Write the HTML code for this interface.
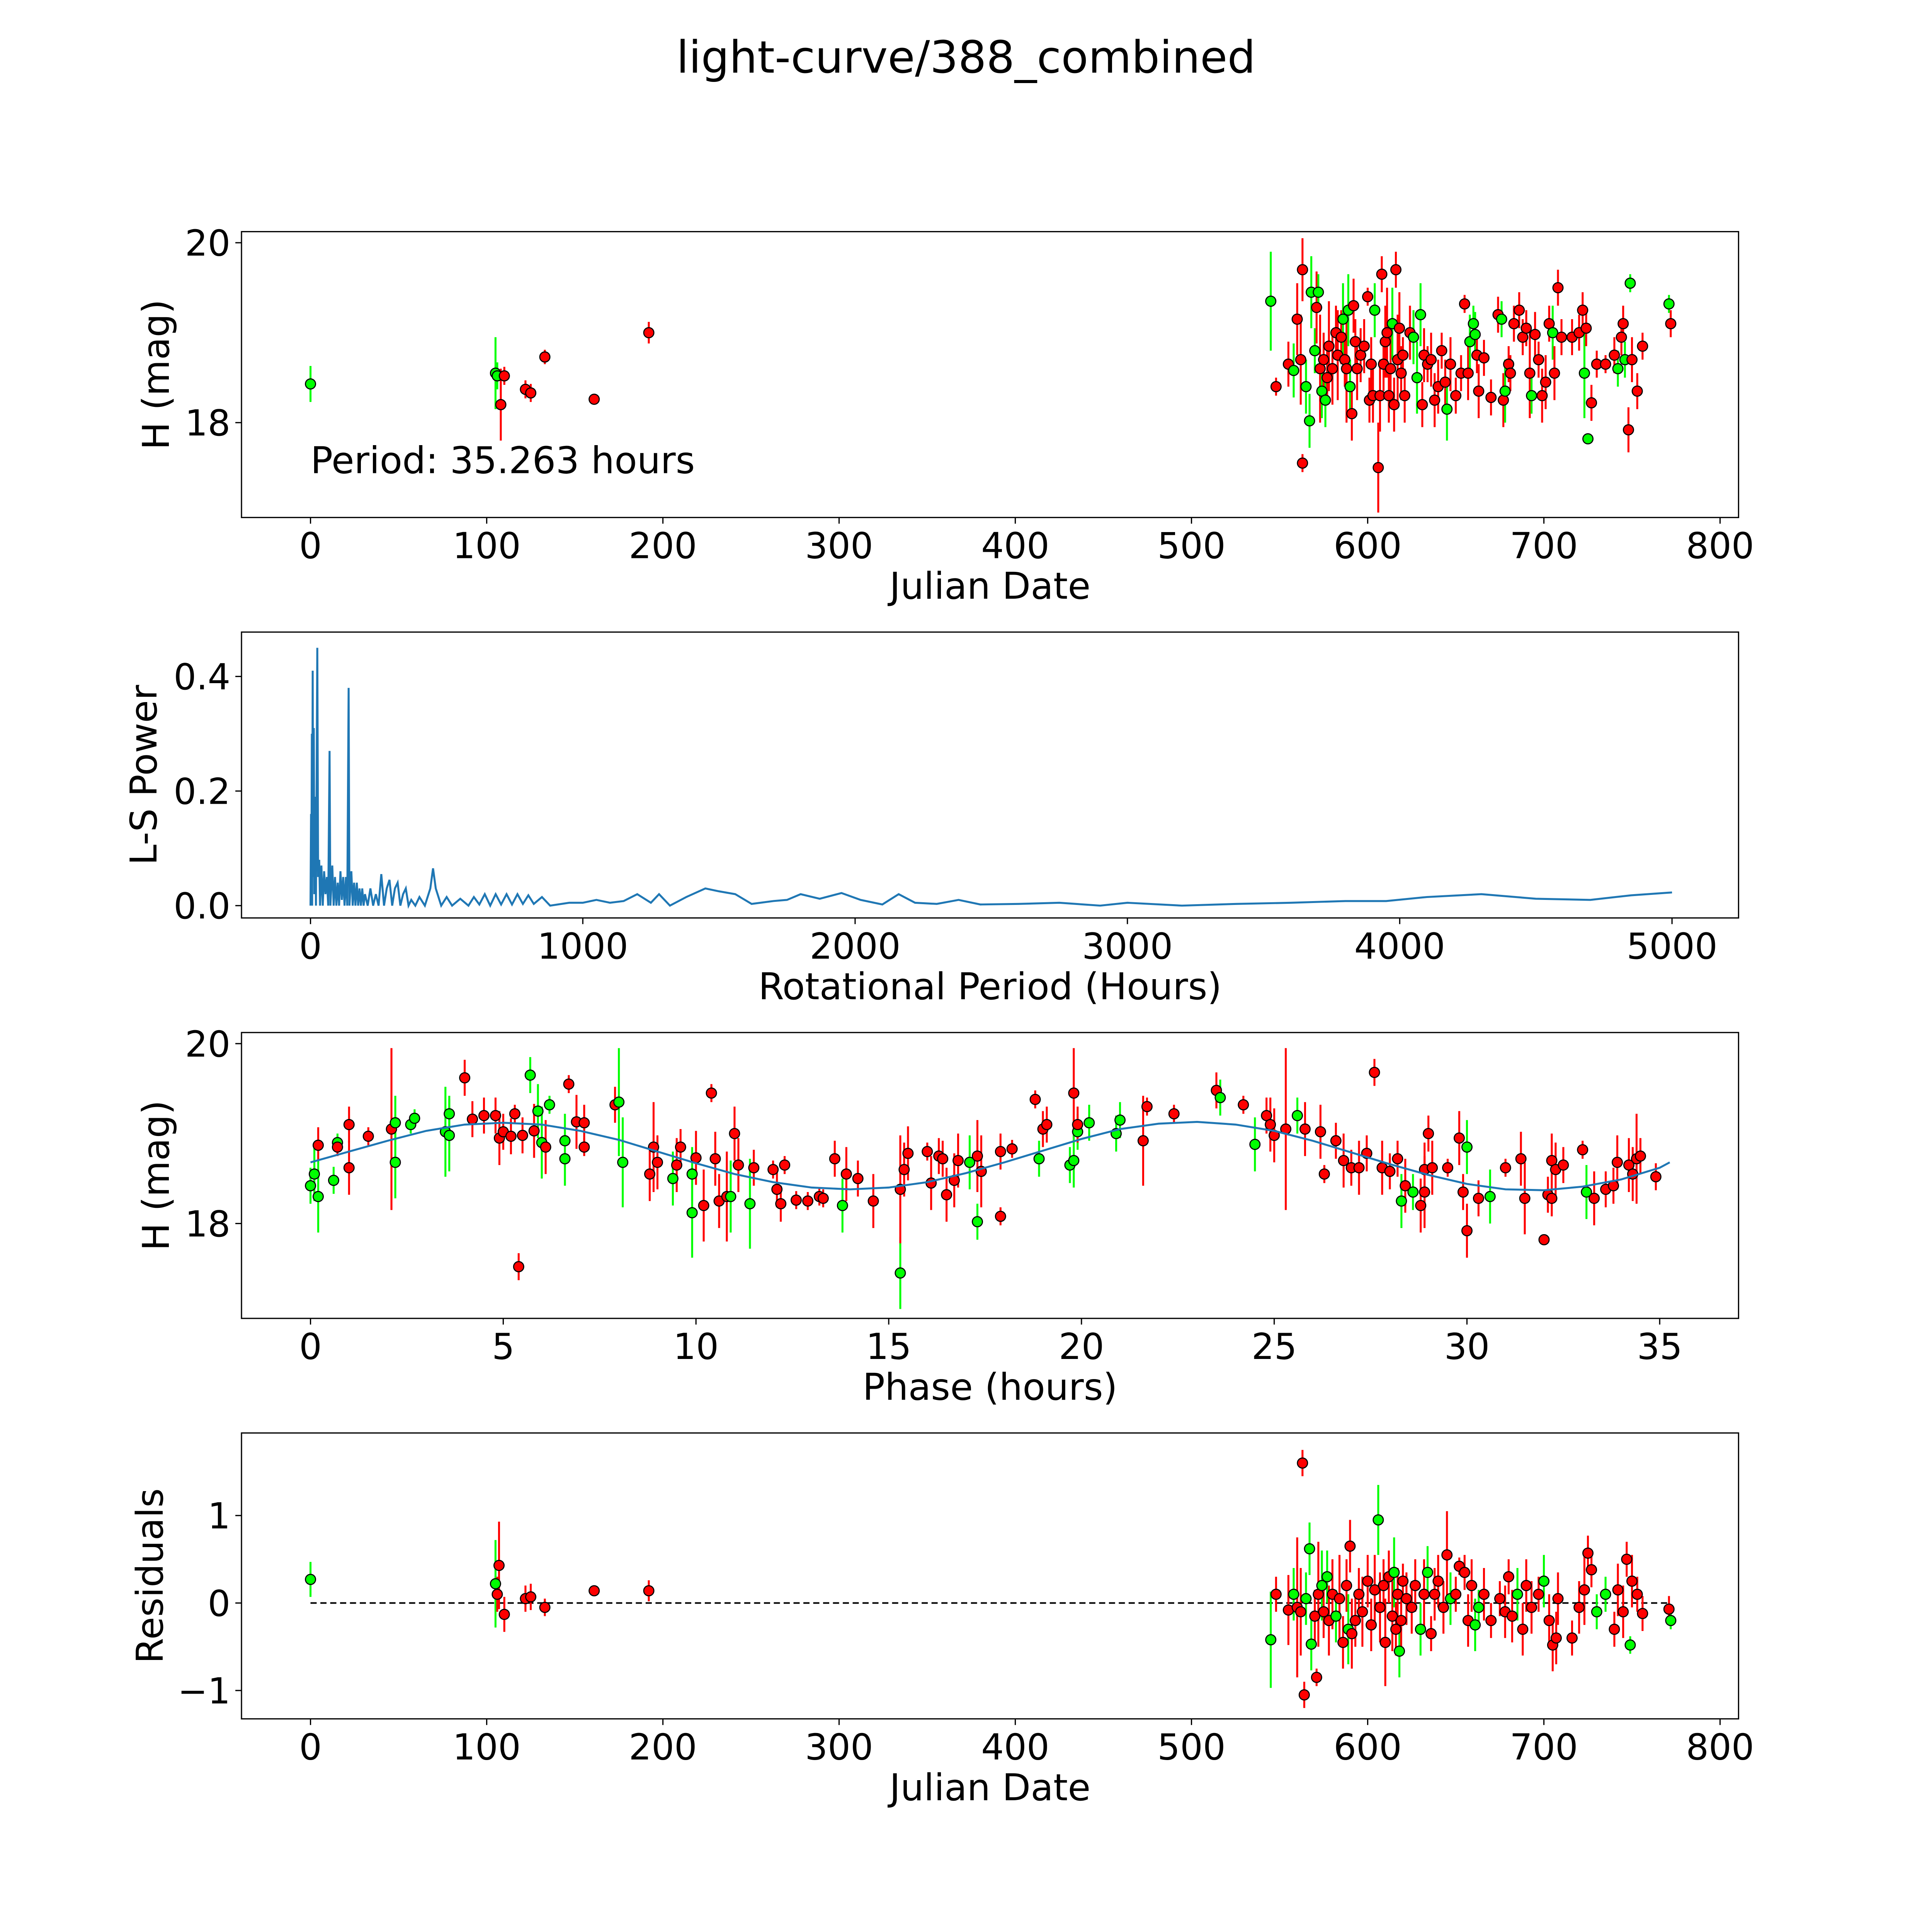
<!DOCTYPE html>
<html>
<head>
<meta charset="utf-8">
<style>
html,body{margin:0;padding:0;background:#fff;overflow:hidden;width:100vw;height:100vh;}
svg{display:block;width:100vw;height:100vh;font-family:"DejaVu Sans","Liberation Sans",sans-serif;}
</style>
</head>
<body>
<svg id="fig" viewBox="0 0 1568 1568" preserveAspectRatio="xMidYMid meet" xmlns="http://www.w3.org/2000/svg">
<rect x="0" y="0" width="1568" height="1568" fill="#fff"/>
<text x="784" y="59" font-size="36" text-anchor="middle">light-curve/388_combined</text>
<g id="layer"></g>
</svg>
<script>
// ---------- DATA ----------
const lcDates=[0,105,106,108,110,122,125,133,161,192,545,548,555,558,560,562,563,563,565,567,568,570,571,572,573,574,575,576,577,578,580,582,583,585,586,587,588,589,590,591,592,593,594,596,598,600,601,602,603,604,606,607,608,609,610,611,612,613,614,615,616,617,618,619,620,621,624,626,628,630,631,632,634,636,638,640,642,644,645,647,650,653,655,657,658,660,661,662,663,666,670,674,676,677,678,680,681,683,686,688,690,692,693,695,697,699,701,703,705,706,708,710,716,720,722,723,724,725,727,730,735,740,742,744,745,746,748,749,750,753,756,771,772];
const lcMags=[18.43,18.55,18.52,18.2,18.52,18.37,18.33,18.73,18.26,19.0,19.35,18.4,18.65,18.58,19.15,18.7,17.55,19.7,18.4,18.02,19.45,18.8,19.28,19.45,18.6,18.35,18.7,18.25,18.5,18.85,18.6,19.0,18.75,18.95,19.15,18.7,18.6,19.25,18.4,18.1,19.3,18.9,18.6,18.75,18.85,19.4,18.25,18.65,18.3,19.25,17.5,18.3,19.65,18.65,18.9,19.0,18.3,18.6,19.1,18.2,19.7,18.7,19.05,18.55,18.75,18.3,19.0,18.95,18.5,19.2,18.2,18.75,18.65,18.7,18.25,18.4,18.8,18.45,18.15,18.65,18.3,18.55,19.32,18.55,18.9,19.1,18.98,18.75,18.35,18.72,18.28,19.2,19.15,18.25,18.35,18.65,18.55,19.1,19.25,18.95,19.05,18.55,18.3,18.98,18.7,18.3,18.45,19.1,19.0,18.55,19.5,18.95,18.95,19.0,19.25,18.55,19.05,17.82,18.22,18.65,18.65,18.75,18.6,18.95,19.1,18.7,17.92,19.55,18.7,18.35,18.85,19.32,19.1];
const lcErrs=[0.2,0.4,0.15,0.4,0.1,0.1,0.1,0.08,0.04,0.12,0.55,0.1,0.25,0.3,0.4,0.5,0.1,0.35,0.3,0.3,0.4,0.25,0.4,0.2,0.6,0.3,0.3,0.3,0.3,0.5,0.4,0.3,0.5,0.3,0.4,0.3,0.6,0.4,0.3,0.3,0.3,0.25,0.35,0.3,0.3,0.1,0.25,0.3,0.3,0.3,0.5,0.4,0.2,0.3,0.4,0.5,0.3,0.4,0.4,0.3,0.2,0.5,0.4,0.3,0.2,0.3,0.3,0.3,0.4,0.35,0.25,0.3,0.2,0.3,0.3,0.3,0.2,0.25,0.35,0.3,0.2,0.2,0.1,0.3,0.3,0.2,0.25,0.2,0.3,0.2,0.2,0.2,0.2,0.3,0.35,0.2,0.2,0.2,0.2,0.2,0.2,0.5,0.2,0.25,0.2,0.3,0.3,0.2,0.3,0.3,0.2,0.2,0.2,0.2,0.2,0.5,0.2,0.05,0.2,0.15,0.1,0.2,0.2,0.2,0.2,0.2,0.25,0.1,0.25,0.2,0.15,0.1,0.15];
const lcBands="gggrrrrrrrgrrgrrrrggggrgrgrgrrrrrrgrrggrrrrrrrrrrgrrrrrrrrgrrrrrrrrgggrrrrrrrrgrrrrrgggrrrrrgrgrrrrrrrgrrrrrgrrrrrrgrgrrrrgrrgrgrrrgr";

const lsPeriods=[0,2,3,5,6,8,10,12,14,17,20,25,28,32,35,40,45,50,55,60,65,70,73,80,85,90,95,100,105,110,115,120,125,130,135,140,143,150,155,160,165,170,175,180,185,190,195,200,210,220,230,240,250,260,270,280,290,300,310,320,330,340,350,360,370,385,400,420,440,450,460,480,500,520,550,580,600,620,640,660,680,700,720,740,760,780,800,820,850,880,950,1000,1050,1100,1150,1200,1250,1280,1320,1380,1450,1500,1560,1620,1700,1750,1800,1870,1950,2020,2100,2160,2220,2300,2380,2460,2600,2750,2900,3000,3200,3400,3600,3800,3950,4100,4300,4500,4700,4850,5000];
const lsPowers=[0,0.16,0.02,0.3,0.0,0.41,0.05,0.31,0.02,0.19,0.0,0.45,0.05,0.08,0.0,0.07,0.0,0.06,0.02,0.05,0.0,0.27,0.0,0.07,0.0,0.05,0.0,0.04,0.0,0.06,0.01,0.05,0.0,0.05,0.0,0.38,0.0,0.06,0.0,0.04,0.0,0.04,0.0,0.03,0.0,0.03,0.0,0.02,0.0,0.03,0.0,0.02,0.0,0.055,0.0,0.03,0.045,0.0,0.03,0.04,0.0,0.02,0.03,0.0,0.01,0.0,0.015,0.0,0.03,0.065,0.03,0.0,0.015,0.0,0.012,0.0,0.015,0.002,0.02,0.0,0.02,0.002,0.02,0.002,0.02,0.003,0.018,0.003,0.015,0.0,0.005,0.005,0.01,0.005,0.008,0.02,0.005,0.02,0.0,0.015,0.03,0.025,0.02,0.003,0.008,0.01,0.02,0.012,0.022,0.01,0.002,0.02,0.005,0.003,0.01,0.002,0.003,0.005,0.0,0.005,0.0,0.003,0.005,0.008,0.008,0.015,0.02,0.012,0.01,0.018,0.023];

const phHours=[0,0.1,0.2,0.2,0.6,0.7,0.7,1,1,1.5,2.1,2.2,2.2,2.6,2.7,3.5,3.6,3.6,4,4.2,4.5,4.8,4.9,5,5.2,5.3,5.4,5.5,5.7,5.8,5.9,6,6.1,6.2,6.6,6.6,6.7,6.9,7.1,7.1,7.9,8,8.1,8.8,8.9,9,9.4,9.5,9.6,9.9,9.9,10,10.2,10.4,10.5,10.6,10.8,10.9,11,11.1,11.4,11.5,12,12.1,12.2,12.3,12.6,12.9,13.2,13.3,13.6,13.8,13.9,14.2,14.6,15.3,15.3,15.4,15.5,16,16.1,16.3,16.4,16.5,16.7,16.8,17.1,17.3,17.3,17.4,17.9,17.9,18.2,18.8,18.9,19,19.1,19.7,19.8,19.8,19.9,19.9,20.2,20.9,21,21.6,21.7,22.4,23.5,23.6,24.2,24.5,24.8,24.9,25,25.3,25.6,25.8,26.2,26.3,26.6,26.8,27,27.2,27.4,27.6,27.8,28,28.2,28.3,28.4,28.6,28.8,28.9,28.9,29,29.1,29.5,29.8,29.9,30,30,30.3,30.6,31,31.4,31.5,32,32.1,32.2,32.2,32.3,32.5,33,33.1,33.3,33.6,33.8,33.9,34.2,34.3,34.4,34.5,34.9];
const phMags=[18.42,18.55,18.87,18.3,18.48,18.9,18.85,18.62,19.1,18.97,19.05,18.68,19.12,19.1,19.17,19.02,18.98,19.22,19.62,19.16,19.2,19.2,18.95,19.02,18.97,19.22,17.52,18.98,19.65,19.03,19.25,18.9,18.85,19.32,18.92,18.72,19.55,19.13,18.85,19.12,19.32,19.35,18.68,18.55,18.85,18.68,18.5,18.65,18.85,18.12,18.55,18.73,18.2,19.45,18.72,18.25,18.3,18.3,19.0,18.65,18.22,18.62,18.6,18.38,18.22,18.65,18.26,18.25,18.3,18.28,18.72,18.2,18.55,18.5,18.25,17.45,18.38,18.6,18.78,18.8,18.45,18.75,18.72,18.32,18.48,18.7,18.68,18.75,18.02,18.58,18.8,18.08,18.83,19.38,18.72,19.05,19.1,18.65,19.45,18.7,19.02,19.1,19.12,19.0,19.15,18.92,19.3,19.22,19.48,19.4,19.32,18.88,19.2,19.1,18.98,19.05,19.2,19.05,19.02,18.55,18.92,18.7,18.62,18.62,18.78,19.68,18.62,18.58,18.72,18.25,18.42,18.35,18.2,18.6,18.35,19.0,18.62,18.62,18.95,18.35,17.92,18.85,18.28,18.3,18.62,18.72,18.28,17.82,18.32,18.28,18.7,18.6,18.65,18.82,18.35,18.28,18.38,18.42,18.68,18.65,18.55,18.72,18.75,18.52];
const phErrs=[0.2,0.3,0.2,0.4,0.15,0.1,0.1,0.3,0.2,0.1,0.9,0.4,0.3,0.1,0.1,0.5,0.4,0.2,0.2,0.2,0.2,0.2,0.3,0.2,0.2,0.1,0.15,0.2,0.2,0.3,0.3,0.4,0.3,0.1,0.3,0.3,0.1,0.3,0.1,0.2,0.2,0.6,0.5,0.3,0.5,0.3,0.3,0.3,0.2,0.5,0.3,0.3,0.4,0.1,0.3,0.3,0.5,0.4,0.3,0.3,0.5,0.2,0.1,0.2,0.2,0.1,0.1,0.1,0.1,0.1,0.2,0.3,0.3,0.2,0.3,0.4,0.6,0.3,0.3,0.1,0.3,0.2,0.2,0.3,0.3,0.3,0.3,0.4,0.2,0.4,0.2,0.1,0.1,0.1,0.2,0.2,0.2,0.2,0.5,0.3,0.2,0.2,0.2,0.2,0.2,0.5,0.1,0.1,0.2,0.2,0.1,0.3,0.2,0.3,0.3,0.9,0.2,0.3,0.3,0.1,0.2,0.3,0.2,0.3,0.2,0.15,0.3,0.2,0.2,0.3,0.3,0.2,0.3,0.3,0.4,0.2,0.3,0.1,0.3,0.2,0.3,0.3,0.2,0.3,0.1,0.3,0.4,0.05,0.2,0.2,0.3,0.3,0.2,0.1,0.3,0.3,0.2,0.2,0.3,0.3,0.3,0.5,0.2,0.15];
const phBands="ggrgggrrrrrgggggggrrrrrrrrrrgrggrgggrrrrrggrrrgrrggrrrrrrgrrgrrrrrrrrrrgrrrgrrrrrrrrrrgrgrrrrrgrrgrggrgggrrrrgrgrrrrgrrrrrrrrrrrrgrgrrrrrrrrrgrgrrrrrrrrrrgrrrr";
const modelHours=[0,1,2,3,4,5,6,7,8,9,10,11,12,13,14,15,16,17,18,19,20,21,22,23,24,25,26,27,28,29,30,31,32,33,34,35,35.26];
const modelMags=[18.68,18.8,18.92,19.03,19.1,19.12,19.1,19.03,18.93,18.8,18.67,18.55,18.46,18.4,18.38,18.4,18.46,18.56,18.68,18.81,18.94,19.05,19.11,19.13,19.1,19.03,18.92,18.79,18.66,18.54,18.44,18.38,18.37,18.41,18.49,18.62,18.68];

const resDates=[0,105,106,107,110,122,125,133,161,192,545,548,555,558,560,562,563,564,565,567,568,570,571,572,574,575,577,578,580,582,584,586,588,589,590,591,593,595,597,600,602,604,606,607,609,610,612,614,615,616,617,618,619,620,622,625,627,630,632,634,636,638,640,643,645,647,650,652,655,657,659,661,663,666,670,675,678,680,682,685,688,690,693,697,700,703,705,707,708,716,720,723,725,727,730,735,740,742,745,747,749,750,753,756,771,772];
const resVals=[0.27,0.22,0.1,0.43,-0.13,0.05,0.07,-0.05,0.14,0.14,-0.42,0.1,-0.08,0.1,-0.05,-0.1,1.6,-1.05,0.05,0.62,-0.47,-0.15,-0.85,0.1,0.2,-0.1,0.3,-0.2,0.1,-0.15,0.05,-0.45,0.2,-0.3,0.65,-0.35,-0.2,0.1,-0.1,0.25,-0.25,0.15,0.95,-0.05,0.2,-0.45,0.3,-0.15,0.35,-0.3,0.1,-0.55,-0.2,0.25,0.05,-0.05,0.2,-0.3,0.1,0.35,-0.35,0.1,0.25,-0.05,0.55,0.05,0.1,0.42,0.35,-0.2,0.2,-0.25,-0.05,0.1,-0.2,0.05,-0.1,0.3,-0.15,0.1,-0.3,0.2,-0.05,0.1,0.25,-0.2,-0.48,-0.4,0.05,-0.4,-0.05,0.15,0.57,0.38,-0.1,0.1,-0.3,0.15,-0.1,0.5,-0.48,0.25,0.1,-0.12,-0.07,-0.2];
const resErrs=[0.2,0.5,0.2,0.5,0.2,0.15,0.15,0.1,0.05,0.12,0.55,0.2,0.4,0.3,0.8,0.5,0.15,0.15,0.3,0.3,0.3,0.3,0.1,0.6,0.4,0.3,0.3,0.4,0.4,0.3,0.5,0.3,0.3,0.4,0.3,0.4,0.3,0.3,0.4,0.3,0.3,0.4,0.4,0.4,0.3,0.5,0.3,0.4,0.4,0.3,0.3,0.3,0.3,0.2,0.3,0.3,0.3,0.3,0.4,0.3,0.2,0.3,0.3,0.3,0.5,0.3,0.2,0.1,0.2,0.3,0.3,0.3,0.2,0.3,0.2,0.2,0.3,0.2,0.3,0.3,0.3,0.3,0.3,0.2,0.3,0.3,0.3,0.3,0.3,0.2,0.3,0.4,0.2,0.2,0.2,0.2,0.2,0.3,0.3,0.2,0.1,0.3,0.2,0.2,0.15,0.1];
const resBands="ggrrrrrrrrgrrgrrrrgggrrrgrgrrgrrrgrrrrrrrrgrrrrrgrrgrrrrrgrgrrrrrgrrrrrggrrrrrrgrrrrgrrrrrrrrrggrrrrgrrrrgrrrg";

const dateTicks=[0,100,200,300,400,500,600,700,800];
const magTicks=[18,20];
const lsXTicks=[0,1000,2000,3000,4000,5000];
const lsYTicks=[0.0,0.2,0.4];
const lsYLabels=["0.0","0.2","0.4"];
const phXTicks=[0,5,10,15,20,25,30,35];
const resYTicks=[-1,0,1];
const resYLabels=["\u22121","0","1"];

// ---------- DRAW ----------
const NS="http://www.w3.org/2000/svg";
const layer=document.getElementById('layer');
function mk(tag,attrs,parent){const e=document.createElementNS(NS,tag);for(const k in attrs)e.setAttribute(k,attrs[k]);(parent||layer).appendChild(e);return e;}
function lin(d0,d1,r0,r1){return v=>r0+(v-d0)*(r1-r0)/(d1-d0);}
const L=196,R=1411;
const COL={g:"#00ff00",r:"#ff0000"};
const TF=29, LF=30;

function axes(name,top,bot,sx,sy,xt,xl,yt,yl,xlabel,ylabel,ylx){
  const g=mk('g',{});
  
  
  const fr=mk('rect',{x:L,y:top,width:R-L,height:bot-top,fill:'none',stroke:'#000','stroke-width':1},g);
  
  
  xt.forEach((v,i)=>{const x=sx(v);
    mk('line',{x1:x,x2:x,y1:bot,y2:bot+5,stroke:'#000','stroke-width':1},g);
    const t=mk('text',{x:x,y:bot+33,'font-size':TF,'text-anchor':'middle'},g);t.textContent=xl[i];
    
    });
  yt.forEach((v,i)=>{const y=sy(v);
    mk('line',{x1:L-5,x2:L,y1:y,y2:y,stroke:'#000','stroke-width':1},g);
    const t=mk('text',{x:L-9,y:y+10.5,'font-size':TF,'text-anchor':'end'},g);t.textContent=yl[i];
    
    });
  const xlab=mk('text',{x:(L+R)/2,y:bot+66,'font-size':LF,'text-anchor':'middle'},g);xlab.textContent=xlabel;
  
  
  const cy=(top+bot)/2;
  const ylab=mk('text',{x:ylx,y:cy,'font-size':LF,'text-anchor':'middle',transform:'rotate(-90 '+ylx+' '+cy+')'},g);ylab.textContent=ylabel;
  
  
  return g;
}
function points(name,xs,ys,es,bands,sx,sy){
  const g=mk('g',{});
  
  
  xs.forEach((v,i)=>{const c=COL[bands[i]]||COL.r;const x=sx(v);
    const l=mk('line',{x1:x,x2:x,y1:sy(ys[i]-es[i]),y2:sy(ys[i]+es[i]),stroke:c,'stroke-width':1.6},g);
    
    });
  xs.forEach((v,i)=>{const c=COL[bands[i]]||COL.r;
    const p=mk('circle',{cx:sx(v),cy:sy(ys[i]),r:4.1,fill:c,stroke:'#000','stroke-width':0.9},g);
    
    });
}

// Panel 1
{const sx=lin(0,800,252,1396),sy=lin(18,20,343,197);
 axes('lightcurve',188,420,sx,sy,dateTicks,dateTicks.map(String),magTicks,magTicks.map(String),'Julian Date','H (mag)',137);
 points('lightcurve',lcDates,lcMags,lcErrs,lcBands,sx,sy);
 const t=mk('text',{x:252,y:384,'font-size':LF});t.textContent='Period: 35.263 hours';
 
 }
// Panel 2
{const sx=lin(0,5000,252,1357),sy=lin(0,0.4,735,549);
 axes('periodogram',513,745,sx,sy,lsXTicks,lsXTicks.map(String),lsYTicks,lsYLabels,'Rotational Period (Hours)','L-S Power',127);
 const d=lsPeriods.map((p,i)=>(i?'L':'M')+sx(p).toFixed(2)+' '+sy(lsPowers[i]).toFixed(2)).join(' ');
 const pl=mk('path',{d:d,fill:'none',stroke:'#1f77b4','stroke-width':1.6});
 
 }
// Panel 3
{const sx=lin(0,35,252,1347),sy=lin(18,20,993,847);
 axes('phase',838,1070,sx,sy,phXTicks,phXTicks.map(String),magTicks,magTicks.map(String),'Phase (hours)','H (mag)',137);
 points('phase',phHours,phMags,phErrs,phBands,sx,sy);
 const d=modelHours.map((h,i)=>(i?'L':'M')+sx(h).toFixed(2)+' '+sy(modelMags[i]).toFixed(2)).join(' ');
 const pl=mk('path',{d:d,fill:'none',stroke:'#1f77b4','stroke-width':1.6});
 
 }
// Panel 4
{const sx=lin(0,800,252,1396),sy=lin(0,1,1301,1230);
 axes('residuals',1163,1395,sx,sy,dateTicks,dateTicks.map(String),resYTicks,resYLabels,'Julian Date','Residuals',132);
 const zl=mk('line',{x1:sx(0),x2:sx(772),y1:sy(0),y2:sy(0),stroke:'#000','stroke-width':1.3,'stroke-dasharray':'5 3'});
 
 
 points('residuals',resDates,resVals,resErrs,resBands,sx,sy);}
</script>
</body>
</html>
